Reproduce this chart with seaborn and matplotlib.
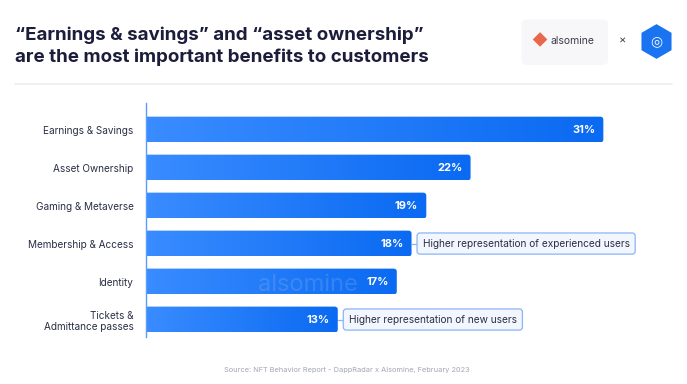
import numpy as np
import matplotlib
matplotlib.use("Agg")
import matplotlib.pyplot as plt
import seaborn as sns
import pandas as pd
from matplotlib.patches import FancyBboxPatch

# ---------------------------------------------------------------------
# Data
# ---------------------------------------------------------------------
categories = [
    "Earnings & Savings",
    "Asset Ownership",
    "Gaming & Metaverse",
    "Membership & Access",
    "Identity",
    "Tickets &\nAdmittance passes",
]
shares = [31, 22, 19, 18, 17, 13]
notes = {3: "Higher representation of experienced users",
         5: "Higher representation of new users"}

title = "\u201cEarnings & savings\u201d and \u201casset ownership\u201d\nare the most important benefits to customers"
source = "Source: NFT Behavior Report - DappRadar x Alsomine, February 2023"

df = pd.DataFrame({"category": categories, "share": shares})

# ---------------------------------------------------------------------
# Figure
# ---------------------------------------------------------------------
sns.set_style("white")
plt.rcParams["font.family"] = ["Inter", "DejaVu Sans"]

fig = plt.figure(figsize=(6.87, 3.84), dpi=100)
ax = fig.add_axes([0.2125, 0.1224, 0.7575, 0.6094])

sns.barplot(data=df, y="category", x="share", orient="h", width=0.68,
            color="#1f78ff", ax=ax)

xmax = 31 * 520 / 457

# gradient fill for each bar, rounded on the right end
grad = np.linspace(0, 1, 256).reshape(1, -1)
cmap = matplotlib.colors.LinearSegmentedColormap.from_list("bl", ["#3a8cff", "#0a6af2"])
for p in list(ax.patches):
    x0, y0 = p.get_x(), p.get_y()
    w, h = p.get_width(), p.get_height()
    p.set_visible(False)
    shape = FancyBboxPatch((x0 - 1, y0), w + 1, h,
                           boxstyle="round,pad=0,rounding_size=0.22",
                           mutation_aspect=0.36, lw=0, fc="none")
    ax.add_patch(shape)
    im = ax.imshow(grad, cmap=cmap, aspect="auto",
                   extent=[x0, x0 + w, y0 + h, y0], zorder=2)
    im.set_clip_path(shape)
ax.set_xlim(0, xmax)
ax.set_ylim(5.46, -0.70)

for i, v in enumerate(shares):
    ax.text(v - 0.55, i, f"{v}%", color="white", fontweight="bold",
            fontsize=8, ha="right", va="center", zorder=4)
    if i in notes:
        ax.plot([v, v + 0.45], [i, i], color="#8ab4f8", lw=0.9, zorder=1)
        ax.text(v + 0.75, i, notes[i], fontsize=7.3, color="#2b2f45",
                ha="left", va="center", zorder=4,
                bbox=dict(boxstyle="round,pad=0.55,rounding_size=0.3",
                          fc="#f2f7ff", ec="#8ab4f8", lw=0.9))

ax.set_xlabel("")
ax.set_ylabel("")
ax.set_xticks([])
ax.tick_params(axis="y", length=0, pad=9, labelsize=7.2, labelcolor="#2b2f45")
for s in ["top", "right", "bottom"]:
    ax.spines[s].set_visible(False)
ax.spines["left"].set_color("#5a9cff")
ax.spines["left"].set_linewidth(1.0)

# faint watermark over the bars
ax.text(7.6, 4.08, "alsomine", fontsize=17, color="#c9d3e6", ha="left",
        va="center", zorder=3, alpha=0.18)

# title and header
fig.text(0.022, 0.88, title, fontsize=13.5, fontweight="bold", color="#1b1d3a",
         ha="left", va="center", linespacing=1.3)
fig.add_artist(plt.Line2D([0.022, 0.978], [0.782, 0.782], color="#eceef2", lw=1.2))

logo_box = FancyBboxPatch((0.763, 0.835), 0.118, 0.11,
                          boxstyle="round,pad=0.004,rounding_size=0.01",
                          transform=fig.transFigure, fc="#f7f7f9", ec="none")
fig.add_artist(logo_box)
fig.text(0.785, 0.893, "\u25C6", fontsize=11, color="#e9674b", ha="center", va="center")
fig.text(0.801, 0.893, "alsomine", fontsize=7.5, color="#3b3d4a", ha="left", va="center")
fig.text(0.906, 0.893, "\u00d7", fontsize=8, color="#3b3d4a", ha="center", va="center")
fig.add_artist(plt.Line2D([0.955], [0.893], marker="h", markersize=25,
                          color="#1a73f0", markeredgewidth=0,
                          transform=fig.transFigure))
fig.text(0.955, 0.893, "\u25CE", fontsize=10, color="white", ha="center", va="center")

fig.text(0.505, 0.037, source, fontsize=5.3, color="#a3a6b4", ha="center", va="center")

fig.savefig("out.png", dpi=100, facecolor="white")
